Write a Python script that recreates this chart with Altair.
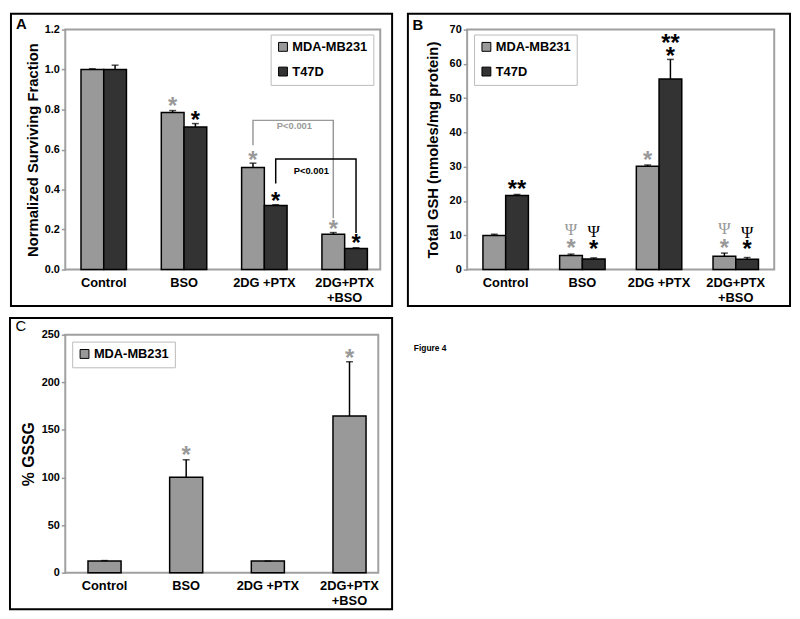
import altair as alt
import pandas as pd

FONT = "Liberation Sans"

groups = ["Control", "BSO", "2DG +PTX", "2DG+PTX|+BSO"]
series = ["MDA-MB231", "T47D"]
bar_colors = ["#999999", "#333333"]
GRAY = "#999999"

# ---------------- Panel A : Normalized surviving fraction
a_mda = [1.00, 0.785, 0.51, 0.177]
a_mda_err = [0.004, 0.010, 0.022, 0.008]
a_t47d = [1.00, 0.713, 0.32, 0.105]
a_t47d_err = [0.022, 0.017, 0.004, 0.004]
a_ann_group = ["BSO", "BSO", "2DG +PTX", "2DG +PTX", "2DG+PTX|+BSO", "2DG+PTX|+BSO"]
a_ann_series = ["MDA-MB231", "T47D", "MDA-MB231", "T47D", "MDA-MB231", "T47D"]
a_ann_y = [0.84, 0.77, 0.573, 0.365, 0.227, 0.158]
a_ann_text = ["*", "*", "*", "*", "*", "*"]
a_ann_color = [GRAY, "black", GRAY, "black", GRAY, "black"]
# significance brackets (polyline points)
a_br_id = ["g", "g", "g", "g", "k", "k", "k", "k"]
a_br_group = ["2DG +PTX", "2DG +PTX", "2DG+PTX|+BSO", "2DG+PTX|+BSO",
              "2DG +PTX", "2DG +PTX", "2DG+PTX|+BSO", "2DG+PTX|+BSO"]
a_br_series = ["MDA-MB231"] * 4 + ["T47D"] * 4
a_br_y = [0.622, 0.746, 0.746, 0.257, 0.43, 0.553, 0.553, 0.183]
a_br_order = [0, 1, 2, 3, 0, 1, 2, 3]
a_p_text = ["P<0.001", "P<0.001"]
a_p_y = [0.716, 0.494]

# ---------------- Panel B : Total GSH
b_mda = [9.9, 4.1, 30.1, 3.9]
b_mda_err = [0.4, 0.4, 0.4, 0.9]
b_t47d = [21.6, 3.1, 55.6, 3.0]
b_t47d_err = [0.3, 0.3, 5.7, 0.5]
b_ann_group = ["Control", "BSO", "BSO", "2DG +PTX", "2DG +PTX", "2DG +PTX",
               "2DG+PTX|+BSO", "2DG+PTX|+BSO"]
b_ann_series = ["T47D", "MDA-MB231", "T47D", "MDA-MB231", "T47D", "T47D",
                "MDA-MB231", "T47D"]
b_ann_y = [24.8, 7.8, 7.5, 33.5, 67.6, 63.75, 7.8, 7.5]
b_ann_text = ["**", "*", "*", "*", "**", "*", "*", "*"]
b_ann_color = ["black", GRAY, "black", GRAY, "black", "black", GRAY, "black"]
b_psi_group = ["BSO", "BSO", "2DG+PTX|+BSO", "2DG+PTX|+BSO"]
b_psi_series = ["MDA-MB231", "T47D", "MDA-MB231", "T47D"]
b_psi_y = [11.8, 11.1, 12.0, 10.9]
b_psi_color = [GRAY, "black", GRAY, "black"]

# ---------------- Panel C : % GSSG
c_mda = [12.2, 100.3, 12.2, 164.6]
c_mda_err = [0.5, 18.3, 0.0, 57.0]
c_ann_group = ["BSO", "2DG+PTX|+BSO"]
c_ann_y = [128.6, 231.0]


def bar_df(vals_by_series):
    rows = []
    for s, (vals, errs) in vals_by_series.items():
        for g, v, e in zip(groups, vals, errs):
            rows.append({"group": g, "series": s, "value": v, "top": v + e})
    return pd.DataFrame(rows)


def xenc(pin, pout, align):
    axis = alt.Axis(labelExpr="split(datum.label, '|')", labelFont=FONT,
                    labelFontSize=13, labelFontWeight="bold", labelColor="black",
                    labelAngle=0, labelPadding=7, labelBaseline="top",
                    labelLineHeight=15, ticks=False, domain=False, title=None)
    return alt.X("group:N", scale=alt.Scale(domain=groups, paddingInner=pin,
                                             paddingOuter=pout, align=align), axis=axis)


def xoff():
    return alt.XOffset("series:N", scale=alt.Scale(domain=series, paddingInner=0, paddingOuter=0))


def yenc(field, dom, vals, fmt, title, tx, h, tsize=15):
    axis = alt.Axis(values=vals, format=fmt, title=title, titleX=tx, titleY=h / 2,
                    titleAngle=270, titleAlign="center", titleBaseline="middle",
                    titleFont=FONT, titleFontSize=tsize, titleFontWeight="bold",
                    titleColor="black", labelFont=FONT, labelFontSize=11,
                    labelFontWeight="bold", labelColor="black", tickColor="#999999",
                    tickSize=4, tickWidth=1.5, labelPadding=2, domain=False, grid=False)
    return alt.Y(field, type="quantitative", scale=alt.Scale(domain=dom, nice=False), axis=axis)


def legend(lx, ly):
    return alt.Legend(orient="none", legendX=lx, legendY=ly, title=None, symbolType="square",
                      symbolSize=81, symbolStrokeColor="black", symbolStrokeWidth=1,
                      labelFont=FONT, labelFontSize=13, labelFontWeight="bold",
                      labelColor="black", labelOffset=3, padding=6, rowPadding=11,
                      fillColor="white", strokeColor="#bbbbbb", direction="vertical")


def box_layer(x1, x2, y1, y2):
    return alt.Chart(alt.Data(values=[{}])).mark_rect(
        fillOpacity=0, stroke="black", strokeWidth=2).encode(
        x=alt.value(x1), x2=alt.value(x2), y=alt.value(y1), y2=alt.value(y2))


def text_layer(txt, x, y, size, weight="bold", align="center"):
    return alt.Chart(alt.Data(values=[{}])).mark_text(
        text=txt, font=FONT, fontSize=size, fontWeight=weight, align=align,
        baseline="middle", color="black").encode(x=alt.value(x), y=alt.value(y))


def grouped_panel(df, ann_df, w, h, dom, vals, fmt, title, tx, pads, lxy, box, letter, psi_df=None,
                  extra=None):
    pin, pout, al = pads
    Y = lambda f: yenc(f, dom, vals, fmt, title, tx, h)
    X = lambda: xenc(pin, pout, al)
    bars = alt.Chart(df).mark_bar(stroke="black", strokeWidth=1.5).encode(
        x=X(), xOffset=xoff(), y=Y("value"),
        fill=alt.Fill("series:N", scale=alt.Scale(domain=series, range=bar_colors),
                      legend=legend(*lxy)))
    err = alt.Chart(df).mark_rule(color="black", strokeWidth=1.5).encode(
        x=X(), xOffset=xoff(), y=Y("value"), y2="top:Q")
    caps = alt.Chart(df).mark_tick(color="black", thickness=1.5, size=7).encode(
        x=X(), xOffset=xoff(), y=Y("top"))
    ann = alt.Chart(ann_df).mark_text(font=FONT, fontSize=24, fontWeight="bold",
                                      baseline="alphabetic", dy=13).encode(
        x=X(), xOffset=xoff(), y=Y("y"), text="text:N", color=alt.Color("color:N", scale=None))
    layers = [bars, err, caps, ann]
    if psi_df is not None:
        layers.append(alt.Chart(psi_df).mark_text(font="Liberation Serif", fontSize=17,
                                                  baseline="alphabetic", dy=6, text="\u03a8").encode(
            x=X(), xOffset=xoff(), y=Y("y"), color=alt.Color("color:N", scale=None)))
    if extra is not None:
        layers += extra(X, Y)
    layers.append(box_layer(*box))
    layers.append(text_layer(letter[0], letter[1], letter[2], 15))
    return alt.layer(*layers).properties(width=w, height=h)


# ---- Panel A
dfA = bar_df({series[0]: (a_mda, a_mda_err), series[1]: (a_t47d, a_t47d_err)})
annA = pd.DataFrame({"group": a_ann_group, "series": a_ann_series, "y": a_ann_y,
                     "text": a_ann_text, "color": a_ann_color})
brA = pd.DataFrame({"id": a_br_id, "group": a_br_group, "series": a_br_series,
                    "y": a_br_y, "order": a_br_order})
pA = pd.DataFrame({"group": ["2DG +PTX", "2DG +PTX"], "series": series, "y": a_p_y,
                   "text": a_p_text, "color": [GRAY, "black"], "shift": [42, 36]})


def extraA(X, Y):
    lines = []
    for bid, col in [("g", GRAY), ("k", "black")]:
        lines.append(alt.Chart(brA[brA.id == bid]).mark_line(color=col, strokeWidth=1.5).encode(
            x=X(), xOffset=xoff(), y=Y("y"), order="order:Q"))
    labs = []
    for i in range(2):
        labs.append(alt.Chart(pA.iloc[[i]]).mark_text(
            font=FONT, fontSize=9.5, fontWeight="bold", baseline="middle",
            dx=float(pA["shift"][i])).encode(
            x=X(), xOffset=xoff(), y=Y("y"), text="text:N", color=alt.Color("color:N", scale=None)))
    return lines + labs


A = grouped_panel(dfA, annA, 319, 243, [0, 1.2], [0, 0.2, 0.4, 0.6, 0.8, 1.0, 1.2], ".1f",
                  "Normalized Surviving Fraction", -33, (0.434, 0.178, 0.55), (208, 5),
                  (-55, 331, -16, 280), ("A", -44.5, -5.5), extra=extraA)

# ---- Panel B
dfB = bar_df({series[0]: (b_mda, b_mda_err), series[1]: (b_t47d, b_t47d_err)})
annB = pd.DataFrame({"group": b_ann_group, "series": b_ann_series, "y": b_ann_y,
                     "text": b_ann_text, "color": b_ann_color})
psiB = pd.DataFrame({"group": b_psi_group, "series": b_psi_series, "y": b_psi_y,
                     "color": b_psi_color})
B = grouped_panel(dfB, annB, 311, 243, [0, 70], [0, 10, 20, 30, 40, 50, 60, 70], "d",
                  "Total GSH (nmoles/mg protein)", -35, (0.408, 0.206, 0.5), (7, 5),
                  (-60, 327, -16, 280), ("B", -50, -5), psi_df=psiB)

# ---- Panel C
dfC = pd.DataFrame({"group": groups, "series": series[0], "value": c_mda,
                    "top": [v + e for v, e in zip(c_mda, c_mda_err)]})
annC = pd.DataFrame({"group": c_ann_group, "y": c_ann_y, "text": "*", "color": GRAY})
wC, hC = 317, 241
XC = lambda: xenc(0.595, 0.214, 0.65)
YC = lambda f: yenc(f, [0, 250], [0, 50, 100, 150, 200, 250], "d", "% GSSG", -37, hC, 16)
barsC = alt.Chart(dfC).mark_bar(stroke="black", strokeWidth=1.5).encode(
    x=XC(), y=YC("value"),
    fill=alt.Fill("series:N", scale=alt.Scale(domain=[series[0]], range=[bar_colors[0]]),
                  legend=legend(7, 7)))
errC = alt.Chart(dfC).mark_rule(color="black", strokeWidth=1.5).encode(x=XC(), y=YC("value"), y2="top:Q")
capsC = alt.Chart(dfC).mark_tick(color="black", thickness=1.5, size=7).encode(x=XC(), y=YC("top"))
annCl = alt.Chart(annC).mark_text(font=FONT, fontSize=24, fontWeight="bold", baseline="alphabetic",
                                  dy=13).encode(x=XC(), y=YC("y"), text="text:N",
                                               color=alt.Color("color:N", scale=None))
C = alt.layer(barsC, errC, capsC, annCl, box_layer(-56, 331, -17, 278),
              text_layer("C", -45, -9, 15, weight="normal"),
              text_layer("Figure 4", 353, 13, 8.5, align="left")).properties(width=wC, height=hC)

top = alt.hconcat(A, B, spacing=12).resolve_scale(fill="independent").resolve_legend(fill="independent")
chart = alt.vconcat(top, C, spacing=8).resolve_scale(fill="independent").resolve_legend(
    fill="independent").properties(padding=0, background="white").configure_view(
    stroke="#a0a0a0", strokeWidth=2)

chart.save("out.html", embed_options={"renderer": "svg", "actions": False})
